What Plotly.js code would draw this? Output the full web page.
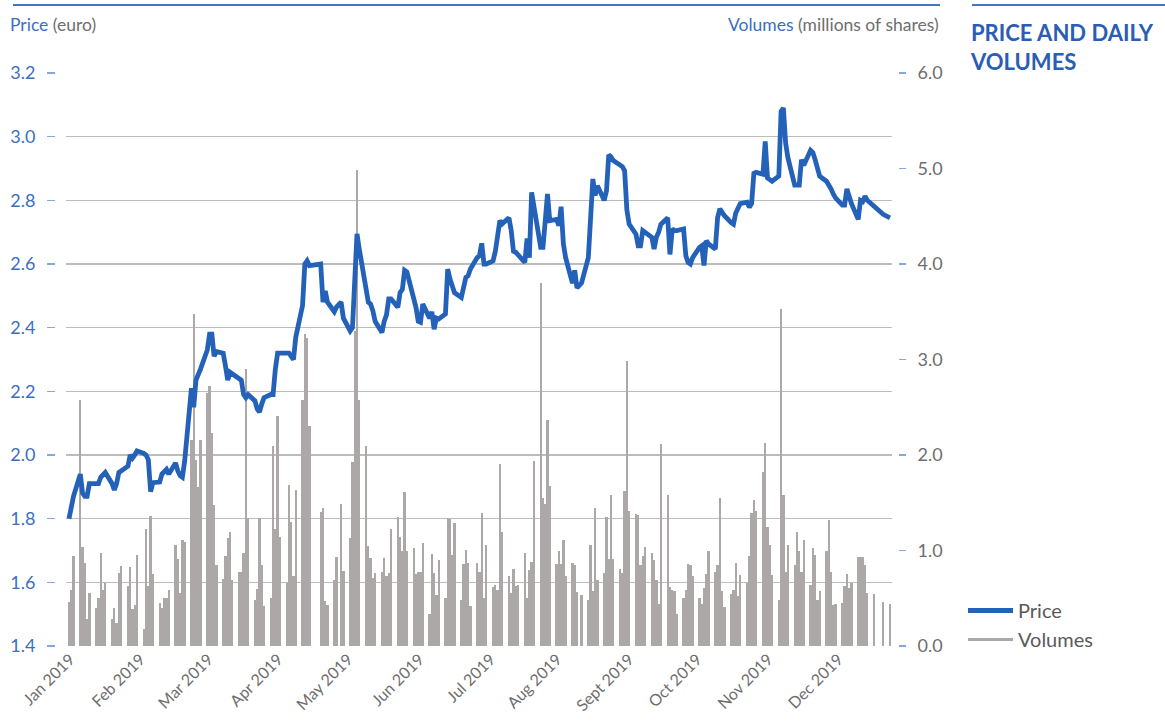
<!DOCTYPE html>
<html><head><meta charset="utf-8">
<script src="https://cdn.plot.ly/plotly-3.0.1.min.js"></script>
<style>html,body{margin:0;padding:0;background:#fff;}#chart{width:1165px;height:726px;}</style>
</head><body><div id="chart"></div>
<script>
const tradingDays = [
"2019-01-02","2019-01-03","2019-01-04","2019-01-07","2019-01-08","2019-01-09","2019-01-10","2019-01-11","2019-01-14","2019-01-15","2019-01-16","2019-01-17","2019-01-18","2019-01-21","2019-01-22","2019-01-23","2019-01-24","2019-01-25","2019-01-28","2019-01-29","2019-01-30","2019-01-31",
"2019-02-01","2019-02-04","2019-02-05","2019-02-06","2019-02-07","2019-02-08","2019-02-11","2019-02-12","2019-02-13","2019-02-14","2019-02-15","2019-02-18","2019-02-19","2019-02-20","2019-02-21","2019-02-22","2019-02-25","2019-02-26","2019-02-27","2019-02-28",
"2019-03-01","2019-03-04","2019-03-05","2019-03-06","2019-03-07","2019-03-08","2019-03-11","2019-03-12","2019-03-13","2019-03-14","2019-03-15","2019-03-18","2019-03-19","2019-03-20","2019-03-21","2019-03-22","2019-03-25","2019-03-26","2019-03-27","2019-03-28","2019-03-29",
"2019-04-01","2019-04-02","2019-04-03","2019-04-04","2019-04-05","2019-04-08","2019-04-09","2019-04-10","2019-04-11","2019-04-12","2019-04-15","2019-04-16","2019-04-17","2019-04-18","2019-04-23","2019-04-24","2019-04-25","2019-04-26","2019-04-29","2019-04-30",
"2019-05-02","2019-05-03","2019-05-06","2019-05-07","2019-05-08","2019-05-09","2019-05-10","2019-05-13","2019-05-14","2019-05-15","2019-05-16","2019-05-17","2019-05-20","2019-05-21","2019-05-22","2019-05-23","2019-05-24","2019-05-27","2019-05-28","2019-05-29","2019-05-30","2019-05-31",
"2019-06-03","2019-06-04","2019-06-05","2019-06-06","2019-06-07","2019-06-10","2019-06-11","2019-06-12","2019-06-13","2019-06-14","2019-06-17","2019-06-18","2019-06-19","2019-06-20","2019-06-21","2019-06-24","2019-06-25","2019-06-26","2019-06-27","2019-06-28",
"2019-07-01","2019-07-02","2019-07-03","2019-07-04","2019-07-05","2019-07-08","2019-07-09","2019-07-10","2019-07-11","2019-07-12","2019-07-15","2019-07-16","2019-07-17","2019-07-18","2019-07-19","2019-07-22","2019-07-23","2019-07-24","2019-07-25","2019-07-26","2019-07-29","2019-07-30","2019-07-31",
"2019-08-01","2019-08-02","2019-08-05","2019-08-06","2019-08-07","2019-08-08","2019-08-09","2019-08-12","2019-08-13","2019-08-14","2019-08-16","2019-08-19","2019-08-20","2019-08-21","2019-08-22","2019-08-23","2019-08-26","2019-08-27","2019-08-28","2019-08-29","2019-08-30",
"2019-09-02","2019-09-03","2019-09-04","2019-09-05","2019-09-06","2019-09-09","2019-09-10","2019-09-11","2019-09-12","2019-09-13","2019-09-16","2019-09-17","2019-09-18","2019-09-19","2019-09-20","2019-09-23","2019-09-24","2019-09-25","2019-09-26","2019-09-27","2019-09-30",
"2019-10-01","2019-10-02","2019-10-03","2019-10-04","2019-10-07","2019-10-08","2019-10-09","2019-10-10","2019-10-11","2019-10-14","2019-10-15","2019-10-16","2019-10-17","2019-10-18","2019-10-21","2019-10-22","2019-10-23","2019-10-24","2019-10-25","2019-10-28","2019-10-29","2019-10-30","2019-10-31",
"2019-11-01","2019-11-04","2019-11-05","2019-11-06","2019-11-07","2019-11-08","2019-11-11","2019-11-12","2019-11-13","2019-11-14","2019-11-15","2019-11-18","2019-11-19","2019-11-20","2019-11-21","2019-11-22","2019-11-25","2019-11-26","2019-11-27","2019-11-28","2019-11-29",
"2019-12-02","2019-12-03","2019-12-04","2019-12-05","2019-12-06","2019-12-09","2019-12-10","2019-12-11","2019-12-12","2019-12-13","2019-12-16","2019-12-17","2019-12-18","2019-12-19","2019-12-20","2019-12-23","2019-12-27","2019-12-30"
];
const price = [
1.80,1.83,1.87,1.94,1.88,1.87,1.87,1.91,1.91,1.91,1.93,1.94,1.945,1.91,1.89,1.91,1.945,1.95,1.965,2.00,1.99,2.00,
2.013,2.005,2.00,1.985,1.885,1.913,1.915,1.94,1.95,1.955,1.94,1.975,1.95,1.935,1.93,1.98,2.21,2.15,2.235,2.25,
2.27,2.33,2.38,2.38,2.31,2.325,2.32,2.28,2.235,2.26,2.255,2.24,2.235,2.19,2.18,2.19,2.17,2.145,2.135,2.16,2.18,
2.19,2.19,2.27,2.32,2.32,2.32,2.32,2.31,2.30,2.37,2.47,2.60,2.61,2.595,2.60,2.48,2.515,2.48,2.45,2.465,
2.48,2.43,2.39,2.40,2.55,2.695,2.647,2.527,2.48,2.474,2.453,2.42,2.385,2.42,2.44,2.49,2.49,2.464,2.51,2.52,2.58,2.575,
2.49,2.464,2.42,2.417,2.474,2.43,2.45,2.395,2.43,2.427,2.443,2.584,2.553,2.527,2.51,2.495,2.527,2.558,2.563,2.584,
2.62,2.626,2.665,2.60,2.60,2.61,2.64,2.705,2.736,2.726,2.745,2.705,2.64,2.637,2.63,2.605,2.68,2.62,2.825,2.78,2.652,2.652,2.736,
2.82,2.736,2.74,2.72,2.78,2.663,2.62,2.54,2.58,2.525,2.54,2.62,2.736,2.867,2.815,2.846,2.80,2.83,2.943,2.937,2.925,
2.909,2.906,2.893,2.77,2.725,2.694,2.657,2.657,2.705,2.70,2.684,2.647,2.684,2.70,2.725,2.745,2.63,2.71,2.705,2.705,2.71,
2.626,2.605,2.60,2.62,2.652,2.657,2.595,2.673,2.663,2.647,2.746,2.773,2.762,2.752,2.73,2.725,2.76,2.778,2.79,2.794,2.778,2.79,2.885,
2.888,2.882,2.985,2.87,2.865,2.86,2.876,3.08,3.09,2.98,2.934,2.848,2.848,2.848,2.928,2.91,2.957,2.95,2.928,2.905,2.876,
2.86,2.85,2.836,2.82,2.808,2.785,2.785,2.836,2.813,2.79,2.74,2.80,2.796,2.813,2.80,2.78,2.756,2.745
];
const volume = [
0.46,0.59,0.94,2.58,1.04,0.87,0.28,0.55,0.40,0.50,0.97,0.59,0.66,0.28,0.40,0.24,0.76,0.84,0.63,0.83,0.39,0.43,
0.95,0.18,1.22,0.63,1.36,0.75,0.45,0.40,0.50,0.50,0.59,1.06,0.91,0.55,1.11,1.09,2.16,3.48,1.95,1.66,
2.16,2.65,2.72,2.23,1.48,0.85,0.70,0.94,1.13,1.19,0.69,0.78,0.77,0.97,2.90,1.34,0.48,0.60,1.34,0.85,0.42,
0.50,2.09,1.22,2.41,1.14,0.66,1.69,1.30,0.73,1.63,2.58,3.27,3.23,2.30,1.40,1.44,0.47,0.43,0.69,0.93,
1.49,0.79,1.13,1.93,3.30,4.98,2.58,2.09,1.05,0.92,0.71,0.76,0.78,0.92,0.73,0.76,1.22,1.35,1.14,1.00,1.61,0.99,
1.03,0.75,0.77,0.78,1.08,0.34,0.96,0.76,0.53,0.90,0.50,1.34,1.33,0.95,1.29,0.48,0.86,1.01,0.87,0.42,
0.87,0.78,1.39,0.50,1.06,0.62,0.64,0.59,1.91,1.19,0.73,0.55,0.81,0.63,0.64,0.97,0.50,0.80,0.88,1.94,3.80,1.55,1.49,
2.37,1.68,0.86,1.00,0.86,1.11,0.73,0.87,0.85,0.57,0.53,0.48,1.06,0.58,1.44,0.69,0.76,1.35,0.91,1.58,0.91,
0.81,0.76,1.62,2.98,1.41,1.38,1.37,0.85,0.94,1.04,0.97,0.90,0.69,0.44,2.12,1.58,0.62,0.59,0.58,0.34,0.50,
0.59,0.86,0.85,0.73,0.50,0.44,0.61,0.75,1.00,0.77,0.85,1.55,0.58,0.41,0.54,0.59,0.87,0.52,0.74,0.66,0.94,1.39,1.53,
1.41,1.82,2.13,1.25,1.06,0.74,0.48,3.53,1.58,0.78,1.06,0.85,1.19,1.00,0.77,1.11,0.64,1.03,0.95,0.48,0.58,
1.00,1.32,0.77,0.43,0.44,0.45,0.63,0.75,0.61,0.66,0.93,0.93,0.93,0.85,0.56,0.54,0.46,0.44
];
const monthLabels = ["Jan 2019","Feb 2019","Mar 2019","Apr 2019","May 2019","Jun 2019","Jul 2019","Aug 2019","Sept 2019","Oct 2019","Nov 2019","Dec 2019"];
const monthTickDates = ["2019-01-02 12:00","2019-02-02 12:00","2019-03-04 12:00","2019-04-04 06:00","2019-05-05 02:00","2019-06-05 12:00","2019-07-06 22:00","2019-08-05 06:00","2019-09-06 00:00","2019-10-06 00:00","2019-11-06 08:00","2019-12-07 06:00"];
const priceTicks = [1.4,1.6,1.8,2.0,2.2,2.4,2.6,2.8,3.0,3.2];
const priceTickText = ["1.4","1.6","1.8","2.0","2.2","2.4","2.6","2.8","3.0","3.2"];
const volumeTicks = [0,1,2,3,4,5,6];
const volumeTickText = ["0.0","1.0","2.0","3.0","4.0","5.0","6.0"];

const W = 1165, H = 726, ML = 55, MR = 267, MT = 73, MB = 80;
const PW = W - ML - MR, PH = H - MT - MB;
const px = x => (x - ML) / PW;
const py = y => (H - MB - y) / PH;

const BLUE = "#2462b9", GRAY_TXT = "#6e6e6e", BAR = "#aca8a7", TICKBLUE = "#7fa9df";
const FONT = "Lato, 'Open Sans', sans-serif";

const traces = [
  {type: "bar", x: tradingDays, y: volume, yaxis: "y", xaxis: "x", marker: {color: BAR, line: {width: 0}}, showlegend: false, hoverinfo: "x+y", name: "Volumes"},
  {type: "scatter", mode: "lines", x: tradingDays, y: price, yaxis: "y2", xaxis: "x", name: "Price", line: {color: BLUE, width: 4.8, shape: "linear"}},
  {type: "scatter", mode: "lines", x: [null], y: [null], yaxis: "y", xaxis: "x", name: "Volumes", line: {color: BAR, width: 3}}
];

const layout = {
  width: W, height: H,
  margin: {l: ML, r: MR, t: MT, b: MB, pad: 0},
  paper_bgcolor: "#fff", plot_bgcolor: "rgba(0,0,0,0)",
  font: {family: FONT, size: 16, color: GRAY_TXT},
  bargap: 0,
  showlegend: true,
  legend: {x: px(963), y: py(591), xanchor: "left", yanchor: "top", font: {family: FONT, size: 20, color: "#5a5a5a"}, bgcolor: "rgba(0,0,0,0)", tracegroupgap: 4, itemwidth: 45},
  xaxis: {
    type: "date", domain: [px(66), px(892)],
    range: ["2018-12-31 16:36", "2019-12-30 21:36"],
    tickmode: "array", tickvals: monthTickDates, ticktext: monthLabels,
    tickangle: -45, ticks: "", showgrid: false, zeroline: false, showline: false,
    tickfont: {family: FONT, size: 16, color: GRAY_TXT}
  },
  yaxis: {
    range: [0, 6], side: "right", anchor: "free", position: 1,
    tickmode: "array", tickvals: volumeTicks, ticktext: volumeTickText,
    ticks: "outside", ticklen: 7, tickwidth: 1.2, tickcolor: TICKBLUE,
    ticklabelstandoff: 8,
    showgrid: false, zeroline: false, showline: false,
    tickfont: {family: FONT, size: 18, color: GRAY_TXT}
  },
  yaxis2: {
    range: [1.4, 3.2], overlaying: "y", side: "left", anchor: "free", position: 0,
    tickmode: "array", tickvals: priceTicks, ticktext: priceTickText,
    ticks: "outside", ticklen: 8, tickwidth: 1.2, tickcolor: TICKBLUE,
    ticklabelstandoff: 8,
    showgrid: true, gridcolor: "#bcbcbc", gridwidth: 1.2, zeroline: false, showline: false,
    tickfont: {family: FONT, size: 18, color: "#3a6fc2"}
  },
  shapes: [
    {type: "line", xref: "paper", yref: "paper", x0: px(13), x1: px(940), y0: py(5), y1: py(5), line: {color: "#3f74c6", width: 2}},
    {type: "line", xref: "paper", yref: "paper", x0: px(972), x1: px(1165), y0: py(5), y1: py(5), line: {color: "#3f74c6", width: 2}}
  ],
  annotations: [
    {xref: "paper", yref: "paper", x: px(8), y: py(25), xanchor: "left", yanchor: "middle", showarrow: false,
     text: '<span style="color:#3a6fc2">Price</span> (euro)', font: {family: FONT, size: 17.5, color: GRAY_TXT}},
    {xref: "paper", yref: "paper", x: px(941), y: py(25), xanchor: "right", yanchor: "middle", showarrow: false,
     text: '<span style="color:#3a6fc2">Volumes</span> (millions of shares)', font: {family: FONT, size: 17.5, color: GRAY_TXT}},
    {xref: "paper", yref: "paper", x: px(968), y: py(17), xanchor: "left", yanchor: "top", align: "left", showarrow: false,
     text: "<b>PRICE AND DAILY<br>VOLUMES</b>", font: {family: FONT, size: 22, color: "#2a5db3"}}
  ]
};

Plotly.newPlot("chart", traces, layout, {displayModeBar: false, staticPlot: true});
</script>
</body></html>
